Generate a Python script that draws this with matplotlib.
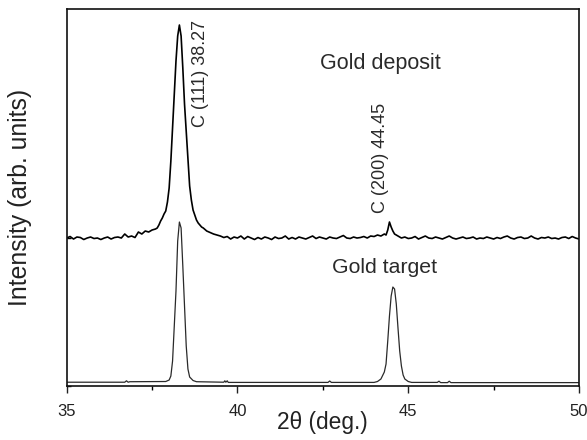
import numpy as np
import matplotlib
matplotlib.use("Agg")
import matplotlib.pyplot as plt

plt.rcParams['font.family'] = ['Liberation Sans', 'DejaVu Sans']

# ---------------- data ----------------
# Gold deposit (upper trace), arbitrary intensity units
dep_x_a = np.round(np.arange(35.0, 37.61, 0.1), 2)
dep_y_a = [148, 149.5, 147, 149, 148.5, 146.5, 148, 149, 147.5, 148,
           146.5, 148, 149, 147, 148.5, 149, 148, 152, 149, 150,
           148.5, 154, 152, 155, 154, 156, 157]
dep_x_b = np.round(np.arange(37.65, 38.96, 0.05), 2)
dep_y_b = [158, 161, 165, 168, 172, 175, 184, 198, 225, 258,
           292, 325, 350, 361, 350, 318, 282, 255, 228, 200,
           186, 176, 171, 166, 163, 161, 159]
dep_x_c = np.round(np.arange(39.0, 44.31, 0.1), 2)
dep_y_c = [158, 155, 153.5, 152, 151, 150, 148.5, 149.5, 147, 149,
           148, 150, 147, 149.5, 148, 146.5, 148.5, 147, 149, 148,
           146.5, 149, 147.5, 148, 150, 147, 148.5, 147, 149, 148,
           147, 148.5, 150, 147.5, 149, 148, 147, 149, 148, 147.5,
           149, 150.5, 148, 147.5, 149, 148, 148.5, 149.5, 148, 150,
           149.5, 151, 150, 152]
dep_x_d = np.round(np.arange(44.35, 44.61, 0.05), 2)
dep_y_d = [151, 156, 164, 159, 155, 152]
dep_x_e = np.round(np.arange(44.7, 50.01, 0.1), 2)
dep_y_e = [150, 148, 149,
           147.5, 148, 149.5, 147, 148.5, 150, 148, 147.5, 149, 148,
           147, 148.5, 150, 148, 147, 148, 149, 147.5, 148, 149,
           147, 148, 147.5, 149, 148, 147, 148.5, 147.5, 149, 150,
           148, 147, 148.5, 149, 147.5, 148, 150, 148, 147, 148.5,
           148, 149, 147.5, 148, 147, 148.5, 149, 147.5, 149.5, 148,
           147]

# Gold target (lower trace)
tgt_x = [35.0, 36.7, 36.75, 36.8, 36.85, 36.9, 37.9, 38.0, 38.05, 38.1,
         38.15, 38.2, 38.25, 38.3, 38.35, 38.4, 38.45, 38.5, 38.55, 38.6,
         38.7, 38.8, 39.6, 39.63, 39.66, 39.7, 39.73, 42.65, 42.7, 42.75,
         44.0, 44.1, 44.2, 44.3, 44.35, 44.4, 44.45, 44.5, 44.55, 44.6,
         44.65, 44.7, 44.75, 44.8, 44.85, 44.9, 45.0, 45.1, 45.85, 45.9,
         45.95, 46.15, 46.2, 46.25, 50.0]
tgt_y = [3.8, 3.8, 5.2, 3.8, 4.3, 4.3, 4.5, 6, 10, 25,
         60, 95, 145, 164, 158, 120, 80, 40, 17, 9,
         5.5, 4.3, 3.8, 5.2, 3.8, 5.2, 3.6, 3.6, 5.0, 3.6,
         3.6, 4.5, 7, 14, 22, 45, 70, 90, 99, 97,
         82, 58, 35, 20, 11, 7, 4.5, 3.6, 3.6, 4.8,
         3.4, 3.4, 4.8, 3.4, 3.4]

x_ticks = [35, 40, 45, 50]
x_minor = [37.5, 42.5, 47.5]

# ---------------- plot ----------------
fig = plt.figure(figsize=(5.87, 4.40), dpi=100)
ax = fig.add_axes([0.1136, 0.1227, 0.8728, 0.8568])

dep_x = np.concatenate([dep_x_a, dep_x_b, dep_x_c, dep_x_d, dep_x_e])
dep_y = np.concatenate([dep_y_a, dep_y_b, dep_y_c, dep_y_d, dep_y_e])

ax.plot(dep_x, dep_y, color='black', lw=1.2)
ax.plot(tgt_x, tgt_y, color='#2a2a2a', lw=0.9)

ax.set_xlim(35, 50)
ax.set_ylim(0, 377)

ax.set_xticks(x_ticks)
ax.set_xticks(x_minor, minor=True)
ax.set_xticklabels([str(t) for t in x_ticks])
ax.tick_params(axis='x', which='major', direction='out', length=5, width=1.0,
               labelsize=12, pad=8, colors='#222222')
ax.tick_params(axis='x', which='minor', direction='out', length=3, width=1.0)
ax.set_yticks([0, 148])
ax.set_yticklabels([])
ax.tick_params(axis='y', which='major', direction='in', length=3, width=1.0)

for sp in ax.spines.values():
    sp.set_linewidth(1.2)
    sp.set_color('#111111')

ax.set_xlabel('2θ (deg.)', fontsize=16.4, color='#222222')
ax.xaxis.set_label_coords(0.5, -0.066)
ax.set_ylabel('Intensity (arb. units)', fontsize=17.8, color='#222222')
ax.yaxis.set_label_coords(-0.068, 0.5)

txt = '#2a2a2a'
ax.text(42.42, 316.7, 'Gold deposit', fontsize=15.5, color=txt,
        ha='left', va='baseline')
ax.text(42.77, 113.3, 'Gold target', fontsize=15.3, color=txt,
        ha='left', va='baseline')
ax.text(38.91, 313, 'C (111) 38.27', fontsize=13, color=txt, rotation=90,
        ha='center', va='center')
ax.text(44.18, 228, 'C (200) 44.45', fontsize=13, color=txt, rotation=90,
        ha='center', va='center')

fig.savefig('out.png', dpi=100)
